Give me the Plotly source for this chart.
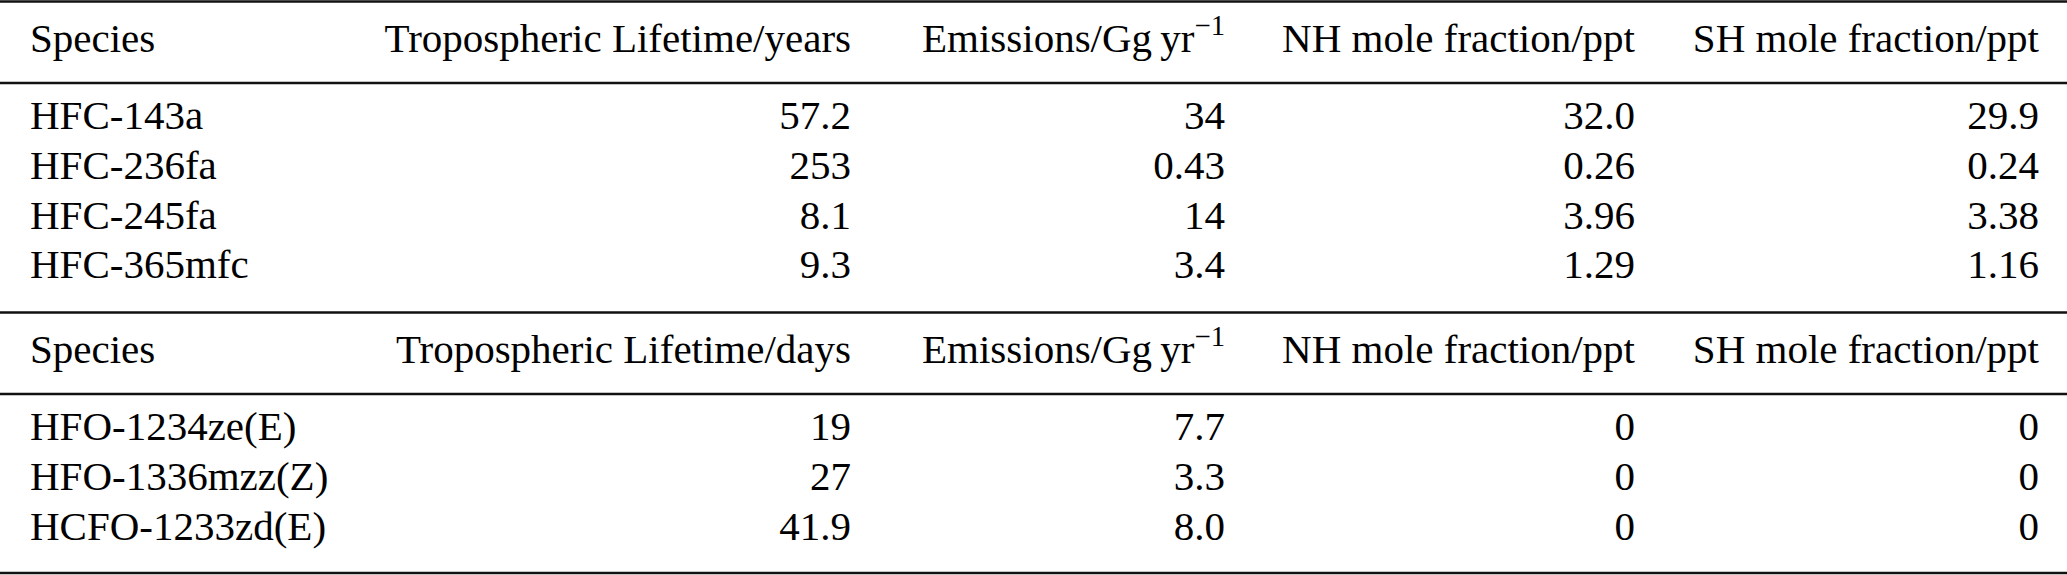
import plotly.graph_objects as go

# ----------------------------------------------------------
# Table contents
# ----------------------------------------------------------

header_hfc = ["Species", "Tropospheric Lifetime/years", "Emissions/Gg\u2009yr<sup>\u22121</sup>",
              "NH mole fraction/ppt", "SH mole fraction/ppt"]
header_hfo = ["Species", "Tropospheric Lifetime/days", "Emissions/Gg\u2009yr<sup>\u22121</sup>",
              "NH mole fraction/ppt", "SH mole fraction/ppt"]

species_hfc = ["HFC-143a", "HFC-236fa", "HFC-245fa", "HFC-365mfc"]
lifetime_hfc = ["57.2", "253", "8.1", "9.3"]
emissions_hfc = ["34", "0.43", "14", "3.4"]
nh_hfc = ["32.0", "0.26", "3.96", "1.29"]
sh_hfc = ["29.9", "0.24", "3.38", "1.16"]

species_hfo = ["HFO-1234ze(E)", "HFO-1336mzz(Z)", "HCFO-1233zd(E)"]
lifetime_hfo = ["19", "27", "41.9"]
emissions_hfo = ["7.7", "3.3", "8.0"]
nh_hfo = ["0", "0", "0"]
sh_hfo = ["0", "0", "0"]

# ----------------------------------------------------------
# Layout constants (pixel units on both axes)
# ----------------------------------------------------------

W, H = 2067, 575
SERIF = "Liberation Serif"
FONT = dict(family=SERIF, size=41, color="black")

species_x = 30
col_right = [851, 1225, 1635, 2039]

section_top = [1.5, 312.5]
header_off = 40
rule_off = 81.5
row_off = 117.5
row_pitch = 49.7
bottom_rule = 573

fig = go.Figure()


def add_section(top, header, columns):
    y_head = top + header_off
    n = len(columns[0])
    ys = [top + row_off + i * row_pitch for i in range(n)]

    # species column, left aligned
    fig.add_trace(go.Scatter(
        x=[species_x] * (n + 1), y=[y_head] + ys,
        text=[header[0]] + columns[0],
        mode="text", textposition="middle right",
        textfont=FONT, hoverinfo="skip", showlegend=False,
    ))
    # numeric columns, right aligned
    for xr, head, vals in zip(col_right, header[1:], columns[1:]):
        fig.add_trace(go.Scatter(
            x=[xr] * (n + 1), y=[y_head] + ys,
            text=[head] + vals,
            mode="text", textposition="middle left",
            textfont=FONT, hoverinfo="skip", showlegend=False,
        ))

    fig.add_hline(y=top, line=dict(color="#111", width=2.6))
    fig.add_hline(y=top + rule_off, line=dict(color="#111", width=2.6))


add_section(section_top[0], header_hfc,
            [species_hfc, lifetime_hfc, emissions_hfc, nh_hfc, sh_hfc])
add_section(section_top[1], header_hfo,
            [species_hfo, lifetime_hfo, emissions_hfo, nh_hfo, sh_hfo])
fig.add_hline(y=bottom_rule, line=dict(color="#111", width=2.6))

fig.update_layout(
    width=W,
    height=H,
    margin=dict(l=0, r=0, t=0, b=0),
    font=dict(family=SERIF, size=41, color="black"),
    paper_bgcolor="white",
    plot_bgcolor="white",
    xaxis=dict(range=[0, W], visible=False, fixedrange=True),
    yaxis=dict(range=[H, 0], visible=False, fixedrange=True),
)

# drop the browser's default body margin so the figure sits at the page corner
fig.write_html(
    "out.html",
    config={"displayModeBar": False},
    post_script="document.body.style.margin = '0';",
)
